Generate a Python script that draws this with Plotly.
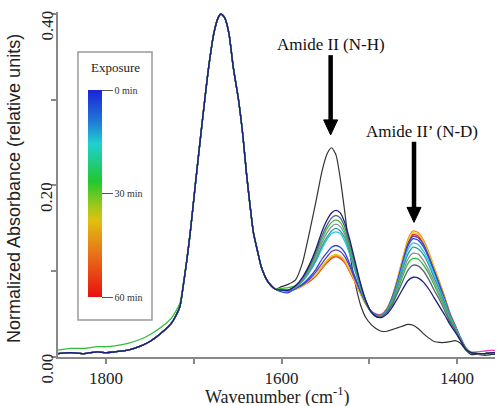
import plotly.graph_objects as go

# ---------------- data ----------------
# Amide I region, shared by every spectrum
wn_amide1 = [1855, 1840, 1825, 1810, 1800, 1790, 1775, 1760, 1750, 1738, 1725, 1716, 1712,
             1708, 1704, 1698, 1691, 1683, 1677, 1672, 1669, 1665, 1660, 1655, 1649, 1644,
             1640, 1636, 1632, 1627, 1623, 1615, 1607]
abs_amide1 = [0.004, 0.005, 0.004, 0.006, 0.005, 0.006, 0.008, 0.013, 0.018, 0.027, 0.040, 0.058,
              0.083, 0.112, 0.145, 0.203, 0.268, 0.338, 0.378, 0.396, 0.400, 0.396, 0.378, 0.338,
              0.300, 0.258, 0.215, 0.178, 0.145, 0.122, 0.105, 0.087, 0.079]
abs_amide1_green = [0.008, 0.010, 0.010, 0.012, 0.012, 0.013, 0.016, 0.021, 0.026, 0.034, 0.046,
                    0.062, 0.085, 0.113, 0.145, 0.203, 0.268, 0.338, 0.378, 0.396, 0.400, 0.396,
                    0.378, 0.338, 0.300, 0.258, 0.215, 0.178, 0.145, 0.122, 0.105, 0.087, 0.079]

# Amide II / II' region
wn_amide2 = [1600, 1592, 1584, 1576, 1568, 1561, 1554, 1548, 1543, 1538, 1533, 1528, 1522, 1516,
             1510, 1504, 1498, 1492, 1486, 1480, 1474, 1468, 1462, 1456, 1450, 1444, 1438, 1432,
             1426, 1420, 1414, 1408, 1402, 1396, 1390, 1384, 1376, 1368, 1360, 1354]

abs2_black = [0.082, 0.085, 0.090, 0.110, 0.146, 0.180, 0.216, 0.237, 0.244, 0.236, 0.208, 0.170,
              0.120, 0.086, 0.061, 0.046, 0.038, 0.033,
              0.030, 0.030, 0.032, 0.034, 0.036, 0.038, 0.037, 0.033, 0.027, 0.022, 0.018, 0.017,
              0.017, 0.018, 0.019, 0.016, 0.008, 0.003, 0.003, 0.002, 0.003, 0.003]
abs2_00 = [0.078, 0.078, 0.083, 0.093, 0.108, 0.125, 0.146, 0.160, 0.168, 0.171, 0.168, 0.157,
           0.136, 0.111, 0.086, 0.066, 0.053, 0.047,
           0.046, 0.050, 0.058, 0.068, 0.079, 0.089, 0.093, 0.092, 0.087, 0.079, 0.069, 0.059,
           0.049, 0.038, 0.029, 0.019, 0.009, 0.005, 0.004, 0.004, 0.005, 0.005]
abs2_06 = [0.078, 0.078, 0.083, 0.092, 0.106, 0.122, 0.141, 0.154, 0.162, 0.165, 0.162, 0.152,
           0.132, 0.108, 0.085, 0.066, 0.053, 0.047,
           0.047, 0.052, 0.061, 0.074, 0.088, 0.101, 0.107, 0.106, 0.100, 0.090, 0.078, 0.067,
           0.054, 0.041, 0.031, 0.020, 0.009, 0.005, 0.004, 0.004, 0.005, 0.005]
abs2_12 = [0.080, 0.081, 0.083, 0.091, 0.104, 0.119, 0.137, 0.150, 0.157, 0.160, 0.157, 0.147,
           0.128, 0.106, 0.083, 0.065, 0.053, 0.047,
           0.047, 0.052, 0.063, 0.077, 0.094, 0.109, 0.115, 0.114, 0.107, 0.097, 0.084, 0.071,
           0.058, 0.043, 0.032, 0.021, 0.010, 0.005, 0.004, 0.004, 0.005, 0.005]
abs2_18 = [0.078, 0.078, 0.082, 0.090, 0.102, 0.116, 0.133, 0.145, 0.152, 0.155, 0.152, 0.143,
           0.125, 0.104, 0.082, 0.065, 0.053, 0.048,
           0.048, 0.053, 0.064, 0.080, 0.098, 0.114, 0.121, 0.120, 0.112, 0.101, 0.088, 0.074,
           0.060, 0.045, 0.033, 0.021, 0.010, 0.005, 0.004, 0.004, 0.005, 0.005]
abs2_24 = [0.078, 0.078, 0.081, 0.089, 0.100, 0.113, 0.129, 0.140, 0.147, 0.150, 0.147, 0.139,
           0.122, 0.101, 0.081, 0.064, 0.053, 0.048,
           0.048, 0.054, 0.066, 0.083, 0.102, 0.120, 0.128, 0.126, 0.119, 0.107, 0.092, 0.078,
           0.063, 0.047, 0.034, 0.021, 0.010, 0.005, 0.004, 0.004, 0.005, 0.005]
abs2_30 = [0.078, 0.078, 0.081, 0.088, 0.099, 0.111, 0.126, 0.137, 0.144, 0.146, 0.144, 0.135,
           0.119, 0.100, 0.080, 0.064, 0.053, 0.048,
           0.048, 0.054, 0.067, 0.085, 0.106, 0.125, 0.133, 0.131, 0.123, 0.111, 0.096, 0.080,
           0.065, 0.048, 0.035, 0.022, 0.010, 0.005, 0.004, 0.004, 0.005, 0.005]
abs2_36 = [0.076, 0.075, 0.080, 0.085, 0.093, 0.102, 0.114, 0.122, 0.128, 0.130, 0.128, 0.122,
           0.108, 0.093, 0.077, 0.063, 0.053, 0.049,
           0.048, 0.055, 0.068, 0.087, 0.109, 0.129, 0.138, 0.136, 0.128, 0.115, 0.099, 0.083,
           0.066, 0.049, 0.035, 0.022, 0.010, 0.005, 0.004, 0.004, 0.005, 0.005]
abs2_42 = [0.078, 0.077, 0.080, 0.084, 0.091, 0.099, 0.109, 0.117, 0.123, 0.125, 0.123, 0.117,
           0.105, 0.090, 0.076, 0.063, 0.053, 0.049,
           0.049, 0.055, 0.069, 0.088, 0.111, 0.132, 0.141, 0.139, 0.131, 0.117, 0.101, 0.085,
           0.068, 0.050, 0.036, 0.022, 0.010, 0.005, 0.004, 0.004, 0.005, 0.005]
abs2_48 = [0.078, 0.077, 0.079, 0.083, 0.090, 0.096, 0.106, 0.113, 0.118, 0.120, 0.118, 0.113,
           0.101, 0.088, 0.074, 0.062, 0.053, 0.049,
           0.049, 0.056, 0.070, 0.090, 0.114, 0.135, 0.145, 0.143, 0.134, 0.120, 0.104, 0.087,
           0.069, 0.050, 0.036, 0.022, 0.010, 0.005, 0.004, 0.004, 0.005, 0.005]
abs2_54 = [0.078, 0.077, 0.079, 0.083, 0.089, 0.095, 0.104, 0.111, 0.116, 0.118, 0.116, 0.111,
           0.100, 0.087, 0.074, 0.062, 0.053, 0.049,
           0.049, 0.056, 0.070, 0.091, 0.115, 0.137, 0.147, 0.145, 0.136, 0.122, 0.105, 0.088,
           0.070, 0.050, 0.036, 0.022, 0.010, 0.005, 0.004, 0.004, 0.005, 0.005]
abs2_60 = [0.078, 0.077, 0.079, 0.083, 0.088, 0.094, 0.103, 0.110, 0.115, 0.117, 0.115, 0.110,
           0.099, 0.087, 0.074, 0.062, 0.053, 0.049,
           0.049, 0.056, 0.069, 0.089, 0.112, 0.133, 0.143, 0.141, 0.132, 0.119, 0.103, 0.086,
           0.069, 0.050, 0.036, 0.022, 0.010, 0.005, 0.004, 0.004, 0.005, 0.005]
abs2_magenta = [0.079, 0.078, 0.080, 0.084, 0.089, 0.095, 0.104, 0.111, 0.116, 0.118, 0.116, 0.111,
                0.100, 0.088, 0.075, 0.063, 0.054, 0.050,
                0.050, 0.056, 0.069, 0.088, 0.111, 0.132, 0.141, 0.139, 0.131, 0.118, 0.102, 0.086,
                0.069, 0.051, 0.037, 0.023, 0.011, 0.006, 0.006, 0.007, 0.008, 0.007]

series_amide2 = [abs2_00, abs2_06, abs2_12, abs2_18, abs2_24, abs2_30, abs2_36, abs2_42,
                 abs2_48, abs2_54, abs2_60, abs2_magenta]
series_amide1 = [abs_amide1, abs_amide1, abs_amide1_green, abs_amide1, abs_amide1, abs_amide1,
                 abs_amide1, abs_amide1, abs_amide1, abs_amide1, abs_amide1, abs_amide1]
series_colors = ["#1b1f7a", "#55657f", "#2fbe3a", "#8c8c98", "#20a0a0", "#28c8d8", "#2448e0",
                 "#6a3cb4", "#e6cf1e", "#f08a1c", "#e8241c", "#f040c0"]

x_ticks = [1800, 1700, 1600, 1500, 1400]
x_ticktext = ["1800", "", "1600", "", "1400"]
y_ticks = [0.0, 0.1, 0.2, 0.3, 0.4]
y_labels = ["0.00", "0.20", "0.40"]
y_label_vals = [0.0, 0.2, 0.4]
bar_ticks = [60, 30, 0]
bar_ticktext = ["0 min", "30 min", "60 min"]

# arrow positions: (wavenumber, tip, tail)
arrow_nh = (1544, 0.259, 0.352)
arrow_nd = (1449, 0.157, 0.251)

# ---------------- figure ----------------
SERIF = "Liberation Serif, Times New Roman, serif"
SANS = "Liberation Sans, Arial, sans-serif"
PX_X = 0.8775          # pixels per cm-1
PX_Y = 857.5           # pixels per absorbance unit
PLOT_H = 345           # plot-area height in pixels

fig = go.Figure()
fig.add_trace(go.Scatter(x=wn_amide1 + wn_amide2, y=abs_amide1 + abs2_black, mode="lines",
                         line=dict(color="#333333", width=1.2, shape="spline", smoothing=0.6),
                         hoverinfo="skip"))
for a1, a2, col in reversed(list(zip(series_amide1, series_amide2, series_colors))):
    fig.add_trace(go.Scatter(x=wn_amide1 + wn_amide2, y=a1 + a2, mode="lines",
                             line=dict(color=col, width=1.3, shape="spline", smoothing=0.6),
                             hoverinfo="skip"))

# colour bar (Exposure)
colorscale = [[0.00, "#e81010"], [0.22, "#e87818"], [0.37, "#e0c010"], [0.43, "#a8c818"],
              [0.56, "#20c830"], [0.74, "#1fd0d0"], [0.85, "#1f78d6"], [1.00, "#1c22d8"]]
fig.add_trace(go.Scatter(
    x=[1600, 1600], y=[-1, -1], mode="markers", hoverinfo="skip",
    marker=dict(size=0.1, color=[0, 60], cmin=0, cmax=60, colorscale=colorscale, showscale=True,
                colorbar=dict(x=(88 - 58) / 437, xanchor="left", xpad=0, ypad=0,
                              y=(357 - 193.5) / 345, yanchor="middle",
                              thicknessmode="pixels", thickness=14,
                              lenmode="pixels", len=207, outlinewidth=0,
                              tickvals=bar_ticks, ticktext=bar_ticktext,
                              ticks="outside", ticklen=11, tickwidth=1, tickcolor="#555555",
                              tickfont=dict(family=SERIF, size=10, color="#333333")))))

shapes = [dict(type="rect", xref="paper", yref="paper",
               x0=(78 - 58) / 437, x1=(152 - 58) / 437,
               y0=(357 - 320) / 345, y1=(357 - 52) / 345,
               line=dict(color="#9a9a9a", width=1.5))]
for (wx, tip, tail) in (arrow_nh, arrow_nd):
    head_top = tip + 15 / PX_Y
    half = 7 / PX_X
    shapes.append(dict(type="line", xref="x", yref="y", x0=wx, x1=wx, y0=tail, y1=head_top - 0.002,
                       line=dict(color="#000000", width=4.5)))
    shapes.append(dict(type="path", xref="x", yref="y",
                       path=f"M {wx - half},{head_top} L {wx + half},{head_top} L {wx},{tip} Z",
                       fillcolor="#000000", line=dict(color="#000000", width=1)))

annotations = [
    dict(text="Wavenumber (cm<sup>-1</sup>)", xref="paper", yref="paper",
         x=(277 - 58) / 437, y=(357 - 396) / 345, showarrow=False,
         xanchor="center", yanchor="middle",
         font=dict(family=SERIF, size=18, color="#222222")),
    dict(text="Normalized Absorbance (relative units)", xref="paper", yref="paper",
         x=(14 - 58) / 437, y=(357 - 189) / 345, showarrow=False, textangle=-90,
         xanchor="center", yanchor="middle",
         font=dict(family=SANS, size=18, color="#222222")),
    dict(text="Exposure", xref="paper", yref="paper",
         x=(115 - 58) / 437, y=(357 - 67) / 345, showarrow=False,
         xanchor="center", yanchor="middle",
         font=dict(family=SERIF, size=13, color="#222222")),
    dict(text="Amide II (N-H)", xref="x", yref="y", x=1544, y=(357 - 45) / PX_Y,
         showarrow=False, xanchor="center", yanchor="middle",
         font=dict(family=SERIF, size=17, color="#111111")),
    dict(text="Amide II’ (N-D)", xref="x", yref="y", x=1440, y=(357 - 132) / PX_Y,
         showarrow=False, xanchor="center", yanchor="middle",
         font=dict(family=SERIF, size=17, color="#111111")),
]
# rotated y tick labels, hanging just below each tick as in the reference
for lab, val in zip(y_labels, y_label_vals):
    annotations.append(dict(text=lab, xref="paper", yref="paper", x=(47 - 58) / 437,
                            y=(val * PX_Y - 11.5) / PLOT_H, showarrow=False, textangle=-90,
                            xanchor="center", yanchor="middle",
                            font=dict(family=SERIF, size=17, color="#222222")))

fig.update_layout(
    width=497, height=406,
    margin=dict(l=58, r=2, t=12, b=49, autoexpand=False),
    paper_bgcolor="white", plot_bgcolor="white", showlegend=False,
    xaxis=dict(range=[1854.7, 1356.7], tickvals=x_ticks, ticktext=x_ticktext,
               ticks="outside", ticklen=5, tickwidth=1.5, tickcolor="#888888",
               showline=True, linecolor="#888888", linewidth=1.5,
               showgrid=False, zeroline=False,
               tickfont=dict(family=SERIF, size=17, color="#222222")),
    yaxis=dict(range=[0, 0.4023], tickvals=y_ticks, showticklabels=False,
               ticks="outside", ticklen=5, tickwidth=1.5, tickcolor="#888888",
               showline=True, linecolor="#888888", linewidth=1.5,
               showgrid=False, zeroline=False),
    shapes=shapes,
    annotations=annotations,
)

fig.write_html("out.html", config={"displayModeBar": False},
               post_script="document.body.style.margin='0';document.body.style.overflow='hidden';")
